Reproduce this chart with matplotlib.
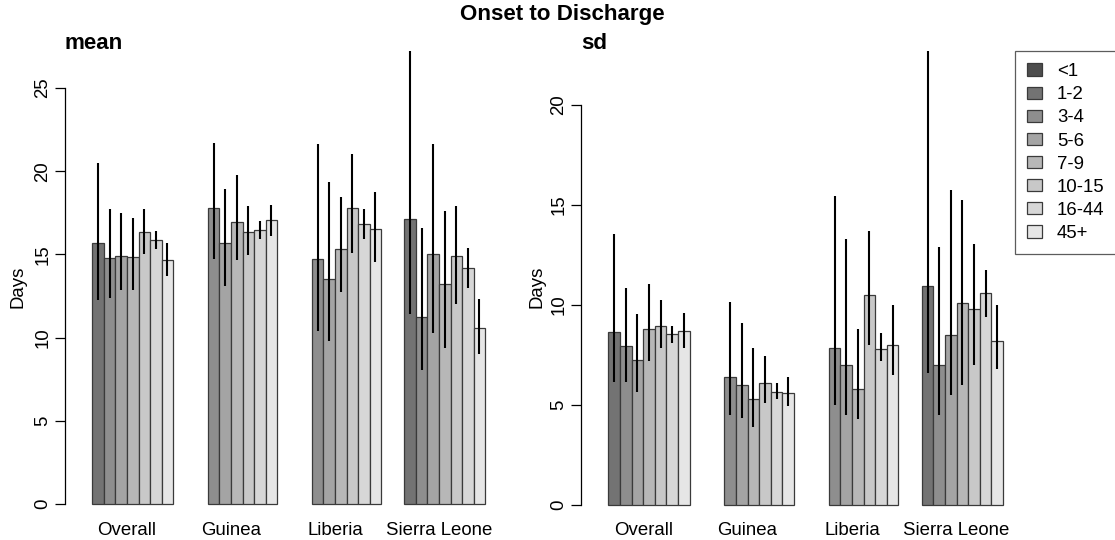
import numpy as np
import matplotlib.pyplot as plt
from matplotlib.patches import Patch
from matplotlib.transforms import blended_transform_factory

plt.rcParams['font.family'] = ['Liberation Sans', 'DejaVu Sans']

ages = ['<1', '1-2', '3-4', '5-6', '7-9', '10-15', '16-44', '45+']
countries = ['Overall', 'Guinea', 'Liberia', 'Sierra Leone']
grays = ['#4D4D4D', '#737373', '#8E8E8E', '#A4A4A4', '#B7B7B7', '#C8C8C8', '#D7D7D7', '#E6E6E6']
na = np.nan

# mean onset-to-discharge (days), rows = countries, cols = age groups
mean_val = [[na, 15.70, 14.76, 14.92, 14.82, 16.35, 15.87, 14.66],
            [na, na, 17.77, 15.67, 16.97, 16.37, 16.47, 17.07],
            [na, na, 14.70, 13.52, 15.32, 17.77, 16.83, 16.53],
            [na, 17.13, 11.22, 15.00, 13.20, 14.90, 14.20, 10.60]]
mean_lo = [[na, 12.26, 12.40, 12.86, 12.86, 15.02, 15.32, 13.70],
           [na, na, 14.70, 13.12, 14.66, 14.96, 15.93, 16.11],
           [na, na, 10.40, 9.81, 12.76, 15.10, 15.91, 14.56],
           [na, 11.40, 8.05, 10.30, 9.40, 12.00, 13.00, 9.00]]
mean_hi = [[na, 20.47, 17.71, 17.47, 17.17, 17.75, 16.41, 15.67],
           [na, na, 21.68, 18.91, 19.77, 17.91, 17.01, 17.97],
           [na, na, 21.63, 19.33, 18.47, 21.01, 17.73, 18.77],
           [na, 29.00, 16.57, 21.63, 17.60, 17.90, 15.40, 12.30]]

# sd of onset-to-discharge (days)
sd_val = [[na, 8.64, 7.93, 7.22, 8.76, 8.92, 8.51, 8.67],
          [na, na, 6.36, 5.97, 5.26, 6.06, 5.64, 5.59],
          [na, na, 7.84, 7.00, 5.80, 10.48, 7.80, 8.00],
          [na, 10.93, 7.00, 8.50, 10.10, 9.80, 10.56, 8.20]]
sd_lo = [[na, 6.14, 6.14, 5.64, 7.17, 7.84, 8.06, 7.81],
         [na, na, 4.47, 4.31, 3.86, 5.06, 5.26, 4.93],
         [na, na, 4.98, 4.50, 4.30, 8.00, 7.20, 6.50],
         [na, 6.60, 4.50, 5.50, 6.00, 7.00, 9.40, 6.80]]
sd_hi = [[na, 13.52, 10.81, 9.51, 11.01, 10.22, 8.92, 9.59],
         [na, na, 10.11, 9.06, 7.84, 7.42, 6.06, 6.39],
         [na, na, 15.43, 13.26, 8.80, 13.68, 8.60, 10.00],
         [na, 24.00, 12.86, 15.73, 15.23, 13.01, 11.73, 10.00]]

W, H = 1115, 540
fig = plt.figure(figsize=(W / 100, H / 100), dpi=100)
fs = 13.4


def px_axes(x0, x1, y0, y1):
    return fig.add_axes([x0 / W, 1 - y1 / H, (x1 - x0) / W, (y1 - y0) / H])


def panel(ax, val, lo, hi, ylim, yticks, title, title_x):
    val, lo, hi = np.array(val), np.array(lo), np.array(hi)
    for g in range(len(countries)):
        for k in range(len(ages)):
            if np.isnan(val[g, k]):
                continue
            xc = 9 * g + 1 + k + 0.5
            ax.bar(xc, val[g, k], width=1, color=grays[k], edgecolor='#3a3a3a', linewidth=0.9, zorder=2)
            ax.vlines(xc, lo[g, k], hi[g, k], color='black', linewidth=1.5, zorder=3)
    ax.set_xlim(1 - 0.04 * 35, 36 + 0.04 * 35)
    ax.set_ylim(*ylim)
    for s in ['top', 'right', 'bottom']:
        ax.spines[s].set_visible(False)
    ax.spines['left'].set_bounds(yticks[0], yticks[-1])
    ax.spines['left'].set_linewidth(0.9)
    ax.set_yticks(yticks)
    ax.set_yticklabels([str(t) for t in yticks], rotation=90, va='center', fontsize=fs)
    ax.tick_params(axis='y', length=7.5, width=0.9, pad=2)
    ax.set_xticks([])
    tr = blended_transform_factory(ax.transData, ax.transAxes)
    for g, name in enumerate(countries):
        ax.text(9 * g + 5, -0.0276, name, transform=tr, ha='center', va='baseline', fontsize=fs)
    fig.text(title_x / W, 1 - 49 / H, title, ha='left', va='baseline', fontsize=fs * 1.2, fontweight='bold')


ax1 = px_axes(64.6, 501.4, 51, 522)
panel(ax1, mean_val, mean_lo, mean_hi, (-1.08, 27.22), [0, 5, 10, 15, 20, 25], 'mean', 65)
ax2 = px_axes(580.5, 1019.2, 51, 522)
panel(ax2, sd_val, sd_lo, sd_hi, (-0.875, 22.675), [0, 5, 10, 15, 20], 'sd', 581)

fig.text(18 / W, 1 - 287 / H, 'Days', rotation=90, ha='center', va='center', fontsize=fs)
fig.text(537 / W, 1 - 287 / H, 'Days', rotation=90, ha='center', va='center', fontsize=fs)
fig.text(562 / W, 1 - 20 / H, 'Onset to Discharge', ha='center', va='baseline', fontsize=fs * 1.2, fontweight='bold')

handles = [Patch(facecolor=c, edgecolor='#3a3a3a', linewidth=0.9) for c in grays]
leg = fig.legend(handles, ages, loc='upper left', bbox_to_anchor=(1015 / W, 1 - 51 / H),
                 fontsize=fs, frameon=True, fancybox=False, borderpad=0.65, labelspacing=0.33,
                 handlelength=0.8, handleheight=0.63, handletextpad=0.8, borderaxespad=0)
leg.get_frame().set_edgecolor('#333333')
leg.get_frame().set_linewidth(0.9)

fig.savefig('out.png', dpi=100)
